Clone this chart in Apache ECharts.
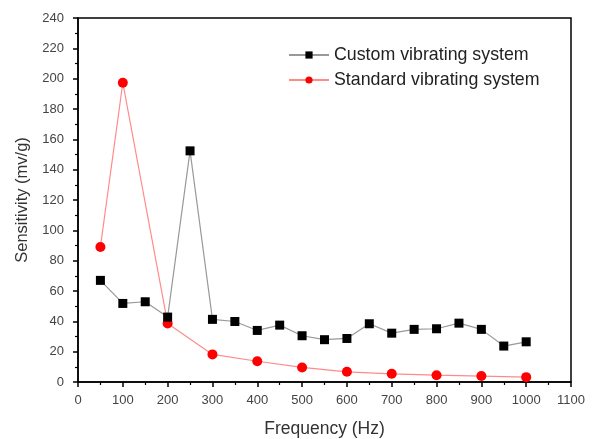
<!DOCTYPE html>
<html>
<head>
<meta charset="utf-8">
<script src="https://cdn.jsdelivr.net/npm/echarts@6/dist/echarts.min.js"></script>
<style>
  html, body { margin: 0; padding: 0; background: #fff; }
  #chart { width: 594px; height: 439px; }
</style>
</head>
<body>
<div id="chart"></div>
<script>
// Data
var customFreq = [50, 100, 150, 200, 250, 300, 350, 400, 450, 500, 550, 600, 650, 700, 750, 800, 850, 900, 950, 1000];
var customSens = [67.0, 51.8, 52.9, 42.8, 152.4, 41.3, 39.9, 34.0, 37.5, 30.5, 27.9, 28.7, 38.4, 32.2, 34.7, 35.1, 38.8, 34.7, 23.7, 26.5];
var standardFreq = [50, 100, 200, 300, 400, 500, 600, 700, 800, 900, 1000];
var standardSens = [89.0, 197.3, 38.6, 18.2, 13.7, 9.6, 6.7, 5.4, 4.5, 3.9, 3.2];

function pairs(xs, ys) {
    var out = [];
    for (var i = 0; i < xs.length; i++) out.push([xs[i], ys[i]]);
    return out;
}

var myChart = echarts.init(document.getElementById("chart"));
var font = 'Liberation Sans, Arial, sans-serif';

option = {
    animation: false,
    grid: {
        left: 78, right: 23, top: 18, bottom: 57,
        outerBoundsMode: 'none',
        containLabel: false,
        show: true,
        borderColor: '#000',
        borderWidth: 1.5
    },
    legend: {
        left: 288,
        top: 46,
        padding: 0,
        orient: 'vertical',
        itemWidth: 40,
        itemHeight: 9,
        itemGap: 7,
        textStyle: { fontFamily: font, fontSize: 17.8, color: '#222' },
        data: ['Custom vibrating system', 'Standard vibrating system']
    },
    xAxis: {
        type: 'value',
        min: 0, max: 1100, interval: 100,
        name: 'Frequency (Hz)',
        nameLocation: 'middle',
        nameGap: 38,
        nameTextStyle: { fontFamily: font, fontSize: 17.5, color: '#333' },
        axisLine: { show: true, onZero: false, lineStyle: { color: '#000', width: 1.5 } },
        axisTick: { show: true, length: 5, lineStyle: { color: '#000', width: 1.5 } },
        minorTick: { show: true, splitNumber: 2, length: 3, lineStyle: { color: '#000', width: 1.2 } },
        axisLabel: { fontFamily: font, fontSize: 13, color: '#444', margin: 12, formatter: function (v) { return String(v); } },
        splitLine: { show: false }
    },
    yAxis: {
        type: 'value',
        min: 0, max: 240, interval: 20,
        name: 'Sensitivity (mv/g)',
        nameLocation: 'middle',
        nameGap: 46,
        nameTextStyle: { fontFamily: font, fontSize: 16.5, color: '#333' },
        axisLine: { show: true, onZero: false, lineStyle: { color: '#000', width: 1.5 } },
        axisTick: { show: true, length: 5, lineStyle: { color: '#000', width: 1.5 } },
        minorTick: { show: true, splitNumber: 2, length: 3, lineStyle: { color: '#000', width: 1.2 } },
        axisLabel: { fontFamily: font, fontSize: 13, color: '#444', margin: 14 },
        splitLine: { show: false }
    },
    series: [
        {
            name: 'Custom vibrating system',
            type: 'line',
            data: pairs(customFreq, customSens),
            symbol: 'rect',
            symbolSize: 9,
            itemStyle: { color: '#000' },
            lineStyle: { color: '#999', width: 1.2 },
            z: 3
        },
        {
            name: 'Standard vibrating system',
            type: 'line',
            data: pairs(standardFreq, standardSens),
            symbol: 'circle',
            symbolSize: 10,
            itemStyle: { color: '#ff0000' },
            lineStyle: { color: '#ff8a8a', width: 1.2 },
            z: 2
        }
    ]
};
myChart.setOption(option);
</script>
</body>
</html>
